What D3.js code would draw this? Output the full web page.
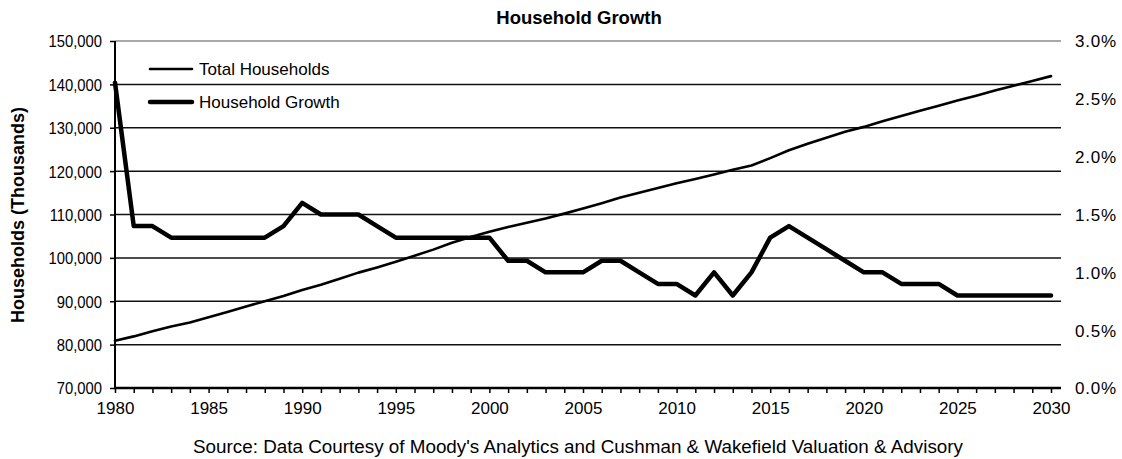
<!DOCTYPE html>
<html><head><meta charset="utf-8">
<script src="https://cdn.jsdelivr.net/npm/d3@7"></script>
<style>
body{margin:0;background:#fff}
svg{display:block}
text{font-family:"Liberation Sans",Arial,sans-serif;fill:#000}
</style>
</head><body>
<svg id="c" width="1122" height="459"></svg>
<script>
const years = [1980,1981,1982,1983,1984,1985,1986,1987,1988,1989,
  1990,1991,1992,1993,1994,1995,1996,1997,1998,1999,
  2000,2001,2002,2003,2004,2005,2006,2007,2008,2009,
  2010,2011,2012,2013,2014,2015,2016,2017,2018,2019,
  2020,2021,2022,2023,2024,2025,2026,2027,2028,2029,2030];
// Total households, thousands
const totalHouseholds = [80900,81900,83100,84200,85100,86300,87500,88800,90000,91200,
  92600,93800,95200,96600,97800,99100,100500,101900,103500,104800,
  106000,107100,108100,109100,110200,111400,112600,113900,115000,116100,
  117200,118200,119200,120300,121300,123000,124800,126300,127700,129100,
  130200,131500,132700,133900,135100,136300,137400,138600,139700,140800,141900];
// Household growth, percent
const householdGrowth = [2.64,1.4,1.4,1.3,1.3,1.3,1.3,1.3,1.3,1.4,
  1.6,1.5,1.5,1.5,1.4,1.3,1.3,1.3,1.3,1.3,
  1.3,1.1,1.1,1.0,1.0,1.0,1.1,1.1,1.0,0.9,
  0.9,0.8,1.0,0.8,1.0,1.3,1.4,1.3,1.2,1.1,
  1.0,1.0,0.9,0.9,0.9,0.8,0.8,0.8,0.8,0.8,0.8];
const leftTicks = [70000,80000,90000,100000,110000,120000,130000,140000,150000];
const rightTicks = [0,0.5,1.0,1.5,2.0,2.5,3.0];
const xTickLabels = [1980,1985,1990,1995,2000,2005,2010,2015,2020,2025,2030];
const seriesNames = ["Total Households","Household Growth"];
const titleText = "Household Growth";
const yTitle = "Households (Thousands)";
const sourceText = "Source: Data Courtesy of Moody's Analytics and Cushman & Wakefield Valuation & Advisory";

const svg = d3.select("#c");
const L = 115, R = 1061, T = 41, B = 388;
const x = d3.scaleLinear().domain([1980, 2030]).range([L, 1051]);
const yL = d3.scaleLinear().domain([70000, 150000]).range([B, T]);
const yR = d3.scaleLinear().domain([0, 3]).range([B, T]);

// gridlines
svg.append("g").selectAll("line").data(leftTicks.slice(1)).join("line")
  .attr("x1", L).attr("x2", R)
  .attr("y1", d => yL(d)).attr("y2", d => yL(d))
  .attr("stroke", d => d === 150000 ? "#8c8c8c" : "#111")
  .attr("stroke-width", 1.5);

// left axis
const gL = svg.append("g").attr("transform", `translate(${L},0)`)
  .call(d3.axisLeft(yL).tickValues(leftTicks).tickSize(5).tickFormat(d3.format(",")));
gL.select(".domain").remove();
gL.selectAll(".tick line").attr("stroke", "#000").attr("stroke-width", 1.5);
gL.selectAll(".tick text").attr("x", 0).attr("dy", "0.35em")
  .attr("transform", "translate(-13,0) scale(0.87,1)")
  .style("font-size", "17px").attr("fill", "#000");
svg.append("line").attr("x1", L).attr("x2", L).attr("y1", T).attr("y2", B + 1)
  .attr("stroke", "#000").attr("stroke-width", 2);

// right axis labels
const gR = svg.append("g").attr("transform", `translate(${R},0)`)
  .call(d3.axisRight(yR).tickValues(rightTicks).tickSize(0).tickPadding(14).tickFormat(d3.format(".1%")).tickFormat(d => d.toFixed(1) + "%"));
gR.select(".domain").remove();
gR.selectAll(".tick text").style("font-size", "17px").style("letter-spacing", "0.8px").attr("dy", "0.35em").attr("fill", "#000");

// bottom axis
const gB = svg.append("g").attr("transform", `translate(0,${B})`)
  .call(d3.axisBottom(x).tickValues(years).tickSize(5).tickPadding(9).tickFormat(d => xTickLabels.includes(d) ? d : ""));
gB.select(".domain").remove();
gB.selectAll(".tick line").attr("stroke", "#000").attr("stroke-width", 1.5);
gB.selectAll(".tick text").style("font-size", "17px").attr("fill", "#000");
svg.append("line").attr("x1", L - 1).attr("x2", R).attr("y1", B).attr("y2", B)
  .attr("stroke", "#000").attr("stroke-width", 2.5);

// lines
const lineTotal = d3.line().x((d, i) => x(years[i])).y(d => yL(d));
const lineGrowth = d3.line().x((d, i) => x(years[i])).y(d => yR(d));
svg.append("path").datum(totalHouseholds).attr("d", lineTotal)
  .attr("fill", "none").attr("stroke", "#000").attr("stroke-width", 2.6)
  .attr("stroke-linejoin", "round").attr("stroke-linecap", "round");
svg.append("path").datum(householdGrowth).attr("d", lineGrowth)
  .attr("fill", "none").attr("stroke", "#000").attr("stroke-width", 4.5)
  .attr("stroke-linejoin", "round").attr("stroke-linecap", "round");

// legend
const lg = svg.append("g");
const legY = [69, 102], legW = [2.6, 4.5];
seriesNames.forEach((n, i) => {
  lg.append("line").attr("x1", 150).attr("x2", 192).attr("y1", legY[i]).attr("y2", legY[i])
    .attr("stroke", "#000").attr("stroke-width", legW[i]).attr("stroke-linecap", "round");
  lg.append("text").attr("x", 199).attr("y", legY[i]).attr("dy", "0.35em")
    .style("font-size", "17px").text(n);
});

// titles
svg.append("text").attr("x", 579).attr("y", 18).attr("dy", "0.35em").attr("text-anchor", "middle")
  .style("font-size", "18.5px").style("font-weight", "bold").text(titleText);
svg.append("text").attr("transform", "translate(18,215) rotate(-90)").attr("dy", "0.35em")
  .attr("text-anchor", "middle").style("font-size", "18px").style("font-weight", "bold").text(yTitle);
svg.append("text").attr("x", 578).attr("y", 447).attr("dy", "0.35em").attr("text-anchor", "middle")
  .attr("textLength", 770).attr("lengthAdjust", "spacingAndGlyphs")
  .style("font-size", "17.5px").text(sourceText);
</script>
</body></html>
